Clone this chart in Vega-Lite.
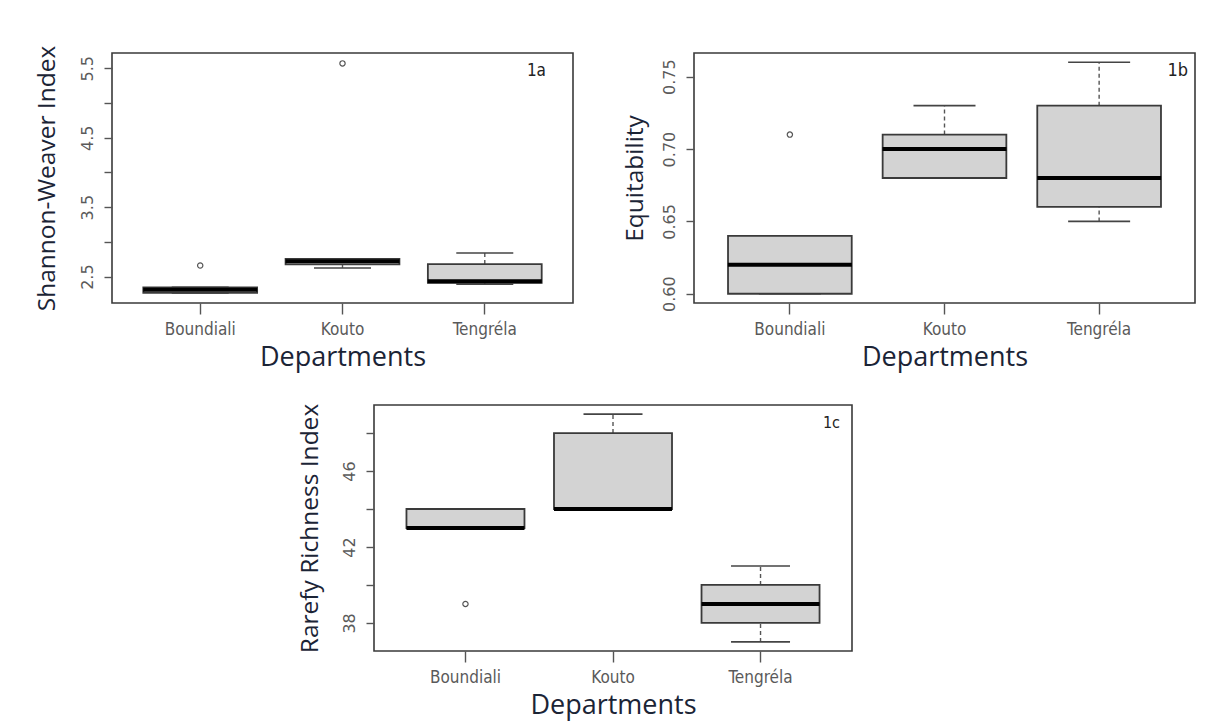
{
  "$schema": "https://vega.github.io/schema/vega-lite/v6.json",
  "background": "white",
  "padding": {"left": 33, "top": 44, "right": 5, "bottom": 5},
  "datasets": {
    "shannon": [
      {"dept": "Boundiali", "lower": 2.265, "q1": 2.265, "median": 2.31, "q3": 2.345, "upper": 2.345},
      {"dept": "Kouto", "lower": 2.625, "q1": 2.675, "median": 2.72, "q3": 2.755, "upper": 2.755},
      {"dept": "Tengréla", "lower": 2.39, "q1": 2.41, "median": 2.435, "q3": 2.68, "upper": 2.84}
    ],
    "shannonOut": [
      {"dept": "Boundiali", "value": 2.66},
      {"dept": "Kouto", "value": 5.57}
    ],
    "equit": [
      {"dept": "Boundiali", "lower": 0.60, "q1": 0.60, "median": 0.62, "q3": 0.64, "upper": 0.64},
      {"dept": "Kouto", "lower": 0.68, "q1": 0.68, "median": 0.70, "q3": 0.71, "upper": 0.73},
      {"dept": "Tengréla", "lower": 0.65, "q1": 0.66, "median": 0.68, "q3": 0.73, "upper": 0.76}
    ],
    "equitOut": [
      {"dept": "Boundiali", "value": 0.71}
    ],
    "rarefy": [
      {"dept": "Boundiali", "lower": 43, "q1": 43, "median": 43, "q3": 44, "upper": 44},
      {"dept": "Kouto", "lower": 44, "q1": 44, "median": 44, "q3": 48, "upper": 49},
      {"dept": "Tengréla", "lower": 37, "q1": 38, "median": 39, "q3": 40, "upper": 41}
    ],
    "rarefyOut": [
      {"dept": "Boundiali", "value": 39}
    ]
  },
  "spacing": 31,
  "vconcat": [
    {
      "bounds": "flush",
      "spacing": 121,
      "hconcat": [
        {
          "width": 461, "height": 250,
          "data": {"name": "shannon"},
          "encoding": {
            "x": {"field": "dept", "type": "nominal", "sort": null,
                  "scale": {"domain": ["Boundiali", "Kouto", "Tengréla"], "paddingInner": 0.2, "paddingOuter": 0.22},
                  "axis": {"title": "Departments"}}
          },
          "layer": [
            {"mark": {"type": "rule", "stroke": "#555", "strokeDash": [4, 3], "strokeWidth": 1.4},
             "encoding": {"y": {"field": "q3", "type": "quantitative",
                                "scale": {"domain": [2.12, 5.72], "nice": false, "zero": false},
                                "axis": {"title": "Shannon-Weaver Index", "titlePadding": 20, "values": [2.5, 3, 3.5, 4, 4.5, 5, 5.5],
                                         "labelExpr": "(datum.value == 2.5 || datum.value == 3.5 || datum.value == 4.5 || datum.value == 5.5) ? format(datum.value, '.1f') : ''"}},
                          "y2": {"field": "upper"}}},
            {"mark": {"type": "rule", "stroke": "#555", "strokeDash": [4, 3], "strokeWidth": 1.4},
             "encoding": {"y": {"field": "lower", "type": "quantitative"}, "y2": {"field": "q1"}}},
            {"mark": {"type": "tick", "orient": "horizontal", "size": 57, "thickness": 1.6, "color": "#444", "opacity": 1},
             "encoding": {"y": {"field": "upper", "type": "quantitative"}}},
            {"mark": {"type": "tick", "orient": "horizontal", "size": 57, "thickness": 1.6, "color": "#444", "opacity": 1},
             "encoding": {"y": {"field": "lower", "type": "quantitative"}}},
            {"mark": {"type": "bar", "fill": "#d3d3d3", "stroke": "#3a3a3a", "strokeWidth": 1.8},
             "encoding": {"y": {"field": "q1", "type": "quantitative"}, "y2": {"field": "q3"}}},
            {"mark": {"type": "tick", "orient": "horizontal", "size": 114, "thickness": 4, "color": "#000", "opacity": 1},
             "encoding": {"y": {"field": "median", "type": "quantitative"}}},
            {"data": {"name": "shannonOut"},
             "mark": {"type": "point", "shape": "circle", "filled": false, "size": 28, "color": "#555", "strokeWidth": 1.2, "opacity": 1},
             "encoding": {"y": {"field": "value", "type": "quantitative"}}},
            {"data": {"values": [{"tag": "1a"}]},
             "mark": {"type": "text", "align": "right", "baseline": "top", "dx": -27, "dy": 10, "font": "DejaVu Sans Condensed, Liberation Sans Narrow, Roboto, sans-serif", "fontSize": 17, "color": "#222"},
             "encoding": {"x": {"value": "width"}, "y": {"value": 0}, "text": {"field": "tag"}}}
          ]
        },
        {
          "width": 501, "height": 250,
          "data": {"name": "equit"},
          "encoding": {
            "x": {"field": "dept", "type": "nominal", "sort": null,
                  "scale": {"domain": ["Boundiali", "Kouto", "Tengréla"], "paddingInner": 0.2, "paddingOuter": 0.22},
                  "axis": {"title": "Departments"}}
          },
          "layer": [
            {"mark": {"type": "rule", "stroke": "#555", "strokeDash": [4, 3], "strokeWidth": 1.4},
             "encoding": {"y": {"field": "q3", "type": "quantitative",
                                "scale": {"domain": [0.5936, 0.7664], "nice": false, "zero": false},
                                "axis": {"title": "Equitability", "titlePadding": 14, "values": [0.6, 0.65, 0.7, 0.75], "format": ".2f"}},
                          "y2": {"field": "upper"}}},
            {"mark": {"type": "rule", "stroke": "#555", "strokeDash": [4, 3], "strokeWidth": 1.4},
             "encoding": {"y": {"field": "lower", "type": "quantitative"}, "y2": {"field": "q1"}}},
            {"mark": {"type": "tick", "orient": "horizontal", "size": 62, "thickness": 1.6, "color": "#444", "opacity": 1},
             "encoding": {"y": {"field": "upper", "type": "quantitative"}}},
            {"mark": {"type": "tick", "orient": "horizontal", "size": 62, "thickness": 1.6, "color": "#444", "opacity": 1},
             "encoding": {"y": {"field": "lower", "type": "quantitative"}}},
            {"mark": {"type": "bar", "fill": "#d3d3d3", "stroke": "#3a3a3a", "strokeWidth": 1.8},
             "encoding": {"y": {"field": "q1", "type": "quantitative"}, "y2": {"field": "q3"}}},
            {"mark": {"type": "tick", "orient": "horizontal", "size": 124, "thickness": 4, "color": "#000", "opacity": 1},
             "encoding": {"y": {"field": "median", "type": "quantitative"}}},
            {"data": {"name": "equitOut"},
             "mark": {"type": "point", "shape": "circle", "filled": false, "size": 28, "color": "#555", "strokeWidth": 1.2, "opacity": 1},
             "encoding": {"y": {"field": "value", "type": "quantitative"}}},
            {"data": {"values": [{"tag": "1b"}]},
             "mark": {"type": "text", "align": "right", "baseline": "top", "dx": -7, "dy": 9, "font": "DejaVu Sans Condensed, Liberation Sans Narrow, Roboto, sans-serif", "fontSize": 18, "color": "#222"},
             "encoding": {"x": {"value": "width"}, "y": {"value": 0}, "text": {"field": "tag"}}}
          ]
        }
      ]
    },
    {
      "bounds": "flush",
      "spacing": 121,
      "hconcat": [
        {
          "width": 141, "height": 10,
          "data": {"values": []},
          "mark": {"type": "point"},
          "encoding": {},
          "view": {"stroke": null}
        },
        {
          "width": 478, "height": 246,
          "data": {"name": "rarefy"},
          "encoding": {
            "x": {"field": "dept", "type": "nominal", "sort": null,
                  "scale": {"domain": ["Boundiali", "Kouto", "Tengréla"], "paddingInner": 0.2, "paddingOuter": 0.22},
                  "axis": {"title": "Departments"}}
          },
          "layer": [
            {"mark": {"type": "rule", "stroke": "#555", "strokeDash": [4, 3], "strokeWidth": 1.4},
             "encoding": {"y": {"field": "q3", "type": "quantitative",
                                "scale": {"domain": [36.52, 49.48], "nice": false, "zero": false},
                                "axis": {"title": "Rarefy Richness Index", "titlePadding": 19, "values": [38, 40, 42, 44, 46, 48],
                                         "labelExpr": "(datum.value == 38 || datum.value == 42 || datum.value == 46) ? format(datum.value, 'd') : ''"}},
                          "y2": {"field": "upper"}}},
            {"mark": {"type": "rule", "stroke": "#555", "strokeDash": [4, 3], "strokeWidth": 1.4},
             "encoding": {"y": {"field": "lower", "type": "quantitative"}, "y2": {"field": "q1"}}},
            {"mark": {"type": "tick", "orient": "horizontal", "size": 59, "thickness": 1.6, "color": "#444", "opacity": 1},
             "encoding": {"y": {"field": "upper", "type": "quantitative"}}},
            {"mark": {"type": "tick", "orient": "horizontal", "size": 59, "thickness": 1.6, "color": "#444", "opacity": 1},
             "encoding": {"y": {"field": "lower", "type": "quantitative"}}},
            {"mark": {"type": "bar", "fill": "#d3d3d3", "stroke": "#3a3a3a", "strokeWidth": 1.8},
             "encoding": {"y": {"field": "q1", "type": "quantitative"}, "y2": {"field": "q3"}}},
            {"mark": {"type": "tick", "orient": "horizontal", "size": 118, "thickness": 4, "color": "#000", "opacity": 1},
             "encoding": {"y": {"field": "median", "type": "quantitative"}}},
            {"data": {"name": "rarefyOut"},
             "mark": {"type": "point", "shape": "circle", "filled": false, "size": 28, "color": "#555", "strokeWidth": 1.2, "opacity": 1},
             "encoding": {"y": {"field": "value", "type": "quantitative"}}},
            {"data": {"values": [{"tag": "1c"}]},
             "mark": {"type": "text", "align": "right", "baseline": "top", "dx": -12, "dy": 10, "font": "DejaVu Sans Condensed, Liberation Sans Narrow, Roboto, sans-serif", "fontSize": 16, "color": "#222"},
             "encoding": {"x": {"value": "width"}, "y": {"value": 0}, "text": {"field": "tag"}}}
          ]
        }
      ]
    }
  ],
  "config": {
    "view": {"stroke": "#3a3a3a", "strokeWidth": 1.6},
    "axis": {"grid": false, "domain": false, "tickColor": "#555", "tickWidth": 1.4, "labelColor": "#5a5a5a",
             "titleColor": "#1b2436", "titleFont": "Open Sans", "titleFontWeight": "normal", "labelOverlap": false, "labelFlush": false},
    "axisX": {"tickSize": 11, "labelFont": "DejaVu Sans Condensed, Liberation Sans Narrow, Roboto, sans-serif", "labelFontSize": 17, "labelPadding": 7, "labelAngle": 0,
              "titleFontSize": 27, "titlePadding": 7},
    "axisY": {"tickSize": 8, "labelFont": "DejaVu Sans", "labelFontSize": 16, "labelAngle": -90, "labelAlign": "center",
              "labelBaseline": "bottom", "labelPadding": 9, "titleFontSize": 24.5}
  }
}
